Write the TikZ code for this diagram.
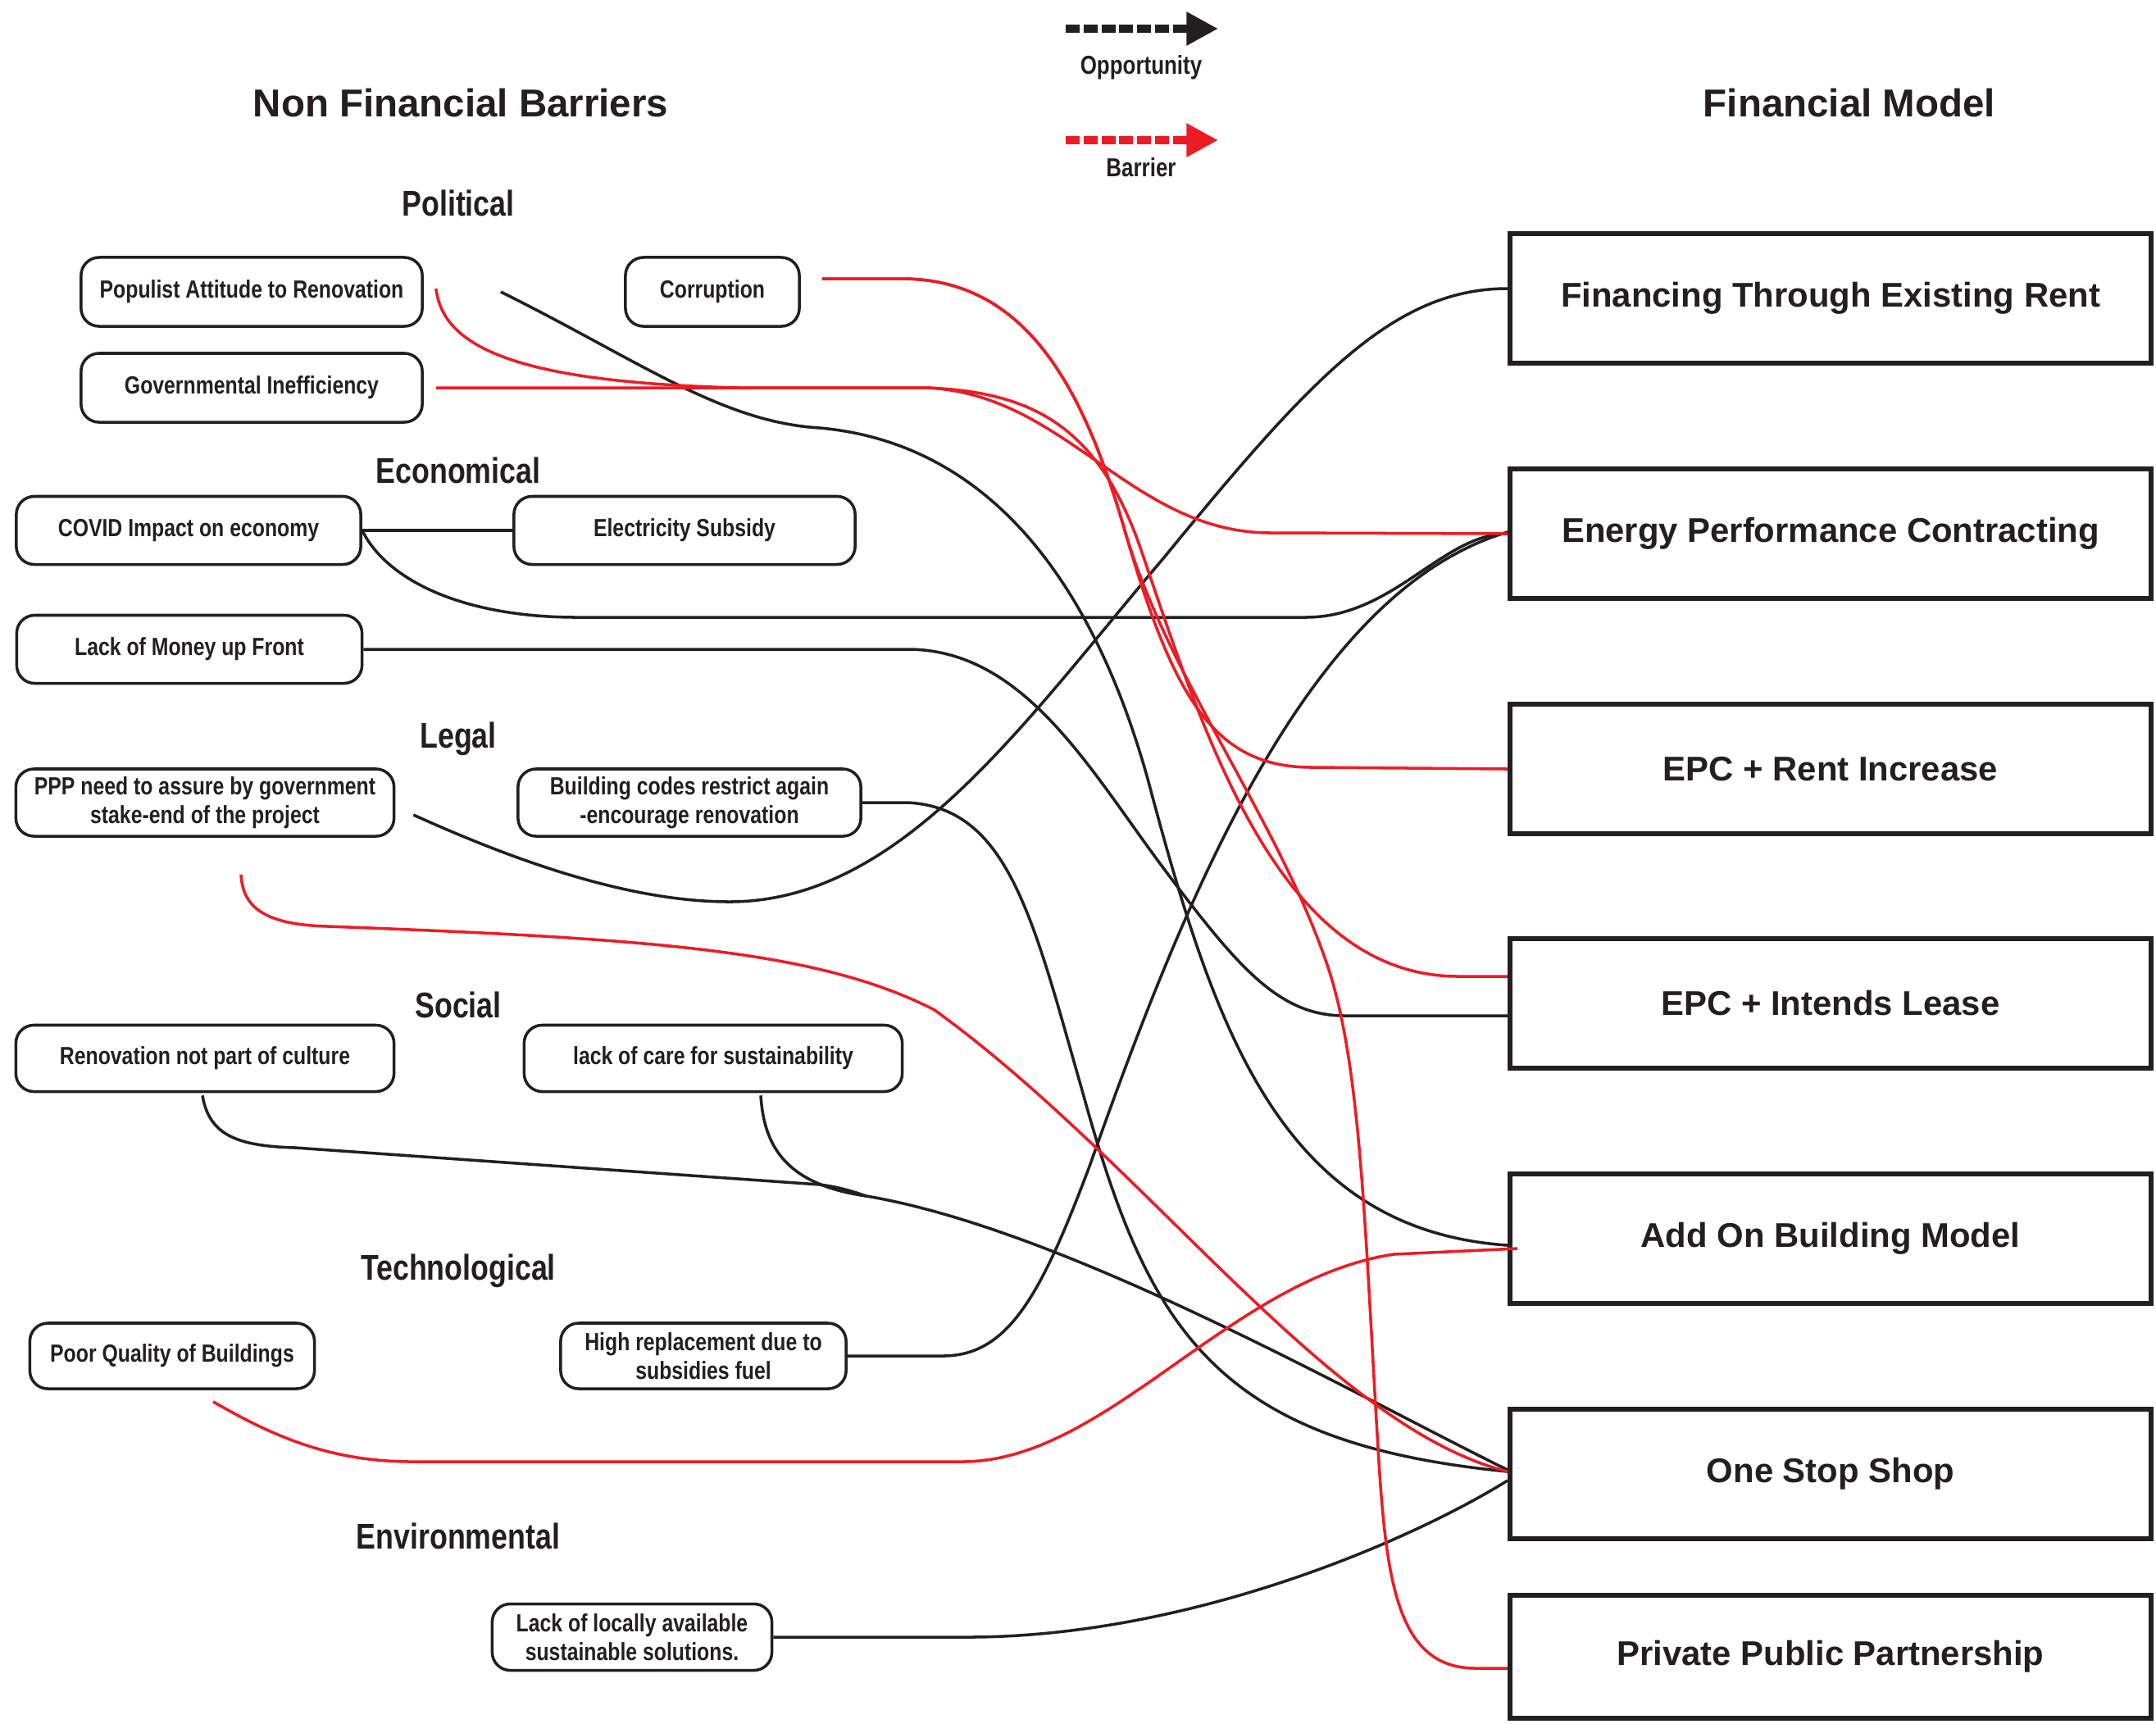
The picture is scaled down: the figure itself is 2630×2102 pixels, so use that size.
\documentclass[tikz,border=0pt]{standalone}
\usepackage{fontspec}
\setmainfont{Liberation Sans}
\newfontfamily\condfont{Liberation Sans}[FakeStretch=0.82]
\usetikzlibrary{arrows.meta,calc}
\definecolor{ink}{HTML}{231F20}
\definecolor{riskred}{HTML}{ED1C24}
\begin{document}
\begin{tikzpicture}[x=0.01cm,y=-0.01cm,
  barbox/.style={draw=ink, line width=1pt, rounded corners=0.22cm, inner sep=0pt, align=center, text=ink,
    font=\condfont\bfseries\fontsize{8.6}{10}\selectfont},
  modelbox/.style={draw=ink, line width=1.6pt, inner sep=0pt, minimum width=7.82cm, minimum height=1.58cm, text=ink,
    font=\bfseries\fontsize{11.9}{14}\selectfont},
  headtxt/.style={text=ink, font=\bfseries\fontsize{13.5}{16}\selectfont},
  cattxt/.style={text=ink, font=\condfont\bfseries\fontsize{12.4}{14}\selectfont},
  legtxt/.style={text=ink, font=\condfont\bfseries\fontsize{9}{11}\selectfont},
  oppline/.style={draw=ink, line width=1pt},
  riskline/.style={draw=riskred, line width=1pt},
  legarrow/.style={line width=3pt, dash pattern=on 4.8pt off 1.4pt, -{Triangle[length=11pt,width=11pt]}}
]
\useasboundingbox (0,0) rectangle (2630,2102);

% legend
\coordinate (oa) at (1300,35);
\coordinate (ob) at (1486,35);
\coordinate (ra) at (1300,171);
\coordinate (rb) at (1486,171);
\draw[legarrow, draw=ink, fill=ink] (oa) -- (ob);
\draw[legarrow, draw=riskred, fill=riskred] (ra) -- (rb);
\node[legtxt] (lopp) at (1392,82) {Opportunity};
\node[legtxt] (lbar) at (1392,204) {Barrier};

% headers
\node[headtxt] (h1) at (562,126) {Non Financial Barriers};
\node[headtxt] (h2) at (2256,126) {Financial Model};

% categories
\node[cattxt] (c1) at (559,248) {Political};
\node[cattxt] (c2) at (559,574) {Economical};
\node[cattxt] (c3) at (559,901) {Legal};
\node[cattxt] (c4) at (559,1226) {Social};
\node[cattxt] (c5) at (559,1550) {Technological};
\node[cattxt] (c6) at (559,1874) {Environmental};

% barrier boxes
\node[barbox, minimum width=4.16cm, minimum height=0.84cm] (pop) at (307,356) {Populist Attitude to Renovation};
\node[barbox, minimum width=2.12cm, minimum height=0.84cm] (cor) at (869,356) {Corruption};
\node[barbox, minimum width=4.16cm, minimum height=0.84cm] (gov) at (307,473) {Governmental Inefficiency};
\node[barbox, minimum width=4.20cm, minimum height=0.83cm] (cov) at (230,647) {COVID Impact on economy};
\node[barbox, minimum width=4.16cm, minimum height=0.83cm] (ele) at (835,647) {Electricity Subsidy};
\node[barbox, minimum width=4.21cm, minimum height=0.83cm] (lom) at (231,792) {Lack of Money up Front};
\node[barbox, minimum width=4.61cm, minimum height=0.82cm] (ppl) at (250,979) {PPP need to assure by government\\stake-end of the project};
\node[barbox, minimum width=4.18cm, minimum height=0.82cm] (bcd) at (841,979) {Building codes restrict again\\-encourage renovation};
\node[barbox, minimum width=4.61cm, minimum height=0.81cm] (ren) at (250,1291) {Renovation not part of culture};
\node[barbox, minimum width=4.61cm, minimum height=0.81cm] (loc) at (870,1291) {lack of care for sustainability};
\node[barbox, minimum width=3.47cm, minimum height=0.80cm] (pqb) at (210,1654) {Poor Quality of Buildings};
\node[barbox, minimum width=3.48cm, minimum height=0.80cm] (hrp) at (858,1654) {High replacement due to\\subsidies fuel};
\node[barbox, minimum width=3.41cm, minimum height=0.81cm] (lla) at (771,1997) {Lack of locally available\\sustainable solutions.};

% financial model boxes
\node[modelbox] (fin) at (2233,364) {Financing Through Existing Rent};
\node[modelbox] (epc) at (2233,651) {Energy Performance Contracting};
\node[modelbox] (eri) at (2233,938) {EPC + Rent Increase};
\node[modelbox] (eil) at (2233,1224) {EPC + Intends Lease};
\node[modelbox] (add) at (2233,1511) {Add On Building Model};
\node[modelbox] (oss) at (2233,1798) {One Stop Shop};
\node[modelbox, minimum height=1.50cm] (ppp) at (2233,2021) {Private Public Partnership};

% opportunity connectors (black)
\draw[oppline] (cov.east) -- (ele.west);
\draw[oppline] (cov.east) .. controls (470,705) and (560,753) .. (704,753) -- (1593,753)
  .. controls (1700,753) and (1760,651) .. (epc.west);
\draw[oppline] (lom.east) -- (1107,792) .. controls (1250,792) and (1330,940) .. (1420,1060)
  .. controls (1510,1180) and (1560,1239) .. (1640,1239) -- ($(eil.west)+(0,15)$);
\draw[oppline] ($(pop.east)+(94,0)$) .. controls (780,440) and (880,515) .. (1000,522)
  .. controls (1200,540) and (1330,700) .. (1400,950)
  .. controls (1480,1250) and (1560,1500) .. ($(add.west)+(0,8)$);
\draw[oppline] (bcd.east) -- (1107,979) .. controls (1230,985) and (1260,1120) .. (1320,1330)
  .. controls (1400,1620) and (1480,1760) .. ($(oss.west)+(0,-3)$);
\draw[oppline] ($(ppl.east)+(22,15)$) .. controls (650,1060) and (780,1100) .. (890,1100)
  .. controls (1100,1100) and (1250,880) .. (1420,680)
  .. controls (1600,460) and (1700,352) .. ($(fin.west)+(0,-12)$);
\draw[oppline] ($(ren.south)+(-3,3)$) .. controls (255,1385) and (290,1398) .. (360,1400) -- (1000,1445)
  .. controls (1025,1448) and (1045,1455) .. (1057,1459)
  .. controls (1300,1500) and (1650,1700) .. ($(oss.west)+(0,-5)$);
\draw[oppline] ($(loc.south)+(58,3)$) .. controls (932,1400) and (960,1445) .. (1057,1459);
\draw[oppline] (hrp.east) -- (1150,1654) .. controls (1230,1654) and (1270,1580) .. (1330,1420)
  .. controls (1450,1080) and (1600,720) .. ($(epc.west)+(0,-2)$);
\draw[oppline] (lla.east) -- (1180,1997) .. controls (1450,1997) and (1720,1880) .. ($(oss.west)+(0,8)$);

% barrier connectors (red)
\draw[riskline] ($(gov.east)+(15,0)$) -- (1130,473) .. controls (1300,480) and (1380,650) .. (1550,650) -- (epc.west);
\draw[riskline] ($(pop.east)+(15,-4)$) .. controls (540,420) and (620,466) .. (900,473) -- (1130,473)
  .. controls (1260,478) and (1340,520) .. (1392,671)
  .. controls (1470,900) and (1560,1190) .. (1778,1191) -- ($(eil.west)+(0,-33)$);
\draw[riskline] ($(cor.east)+(26,-16)$) -- (1100,340) .. controls (1250,340) and (1320,470) .. (1370,640)
  .. controls (1430,850) and (1480,936) .. (1600,936) -- (eri.west);
\draw[riskline] ($(cor.east)+(26,-16)$) -- (1100,340) .. controls (1250,340) and (1320,470) .. (1370,640)
  .. controls (1420,820) and (1560,1000) .. (1620,1180)
  .. controls (1660,1300) and (1665,1500) .. (1680,1750)
  .. controls (1690,1920) and (1700,2035) .. (1800,2035) -- ($(ppp.west)+(0,14)$);
\draw[riskline] ($(ppl.south)+(44,45)$) .. controls (296,1105) and (320,1128) .. (400,1130)
  .. controls (800,1145) and (1000,1160) .. (1140,1232)
  .. controls (1400,1420) and (1620,1740) .. ($(oss.west)+(0,-3)$);
\draw[riskline] ($(pqb.south)+(50,14)$) .. controls (330,1750) and (400,1783) .. (503,1783) -- (1174,1783)
  .. controls (1350,1783) and (1500,1560) .. (1700,1530) -- ($(add.west)+(12,12)$);
\end{tikzpicture}
\end{document}
